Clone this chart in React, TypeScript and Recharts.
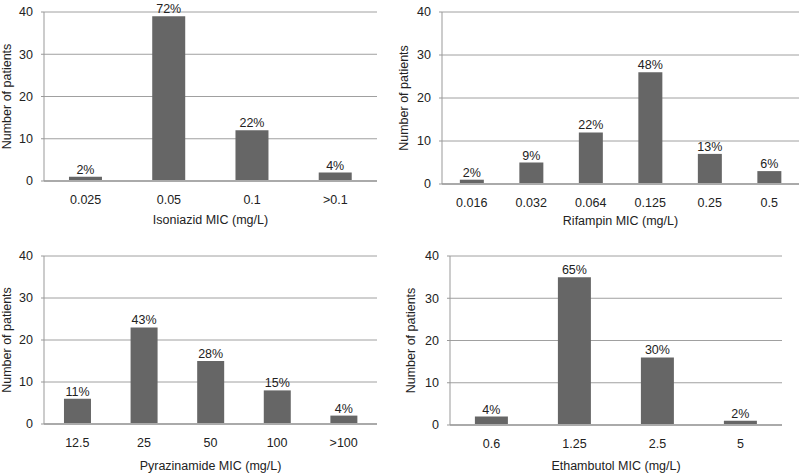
import React from 'react';
import { BarChart, Bar, XAxis, YAxis, CartesianGrid, LabelList } from 'recharts';

const isoniazidCats = ['0.025', '0.05', '0.1', '>0.1'];
const isoniazidCounts = [1, 39, 12, 2];
const isoniazidPct = ['2%', '72%', '22%', '4%'];

const rifampinCats = ['0.016', '0.032', '0.064', '0.125', '0.25', '0.5'];
const rifampinCounts = [1, 5, 12, 26, 7, 3];
const rifampinPct = ['2%', '9%', '22%', '48%', '13%', '6%'];

const pyrazinamideCats = ['12.5', '25', '50', '100', '>100'];
const pyrazinamideCounts = [6, 23, 15, 8, 2];
const pyrazinamidePct = ['11%', '43%', '28%', '15%', '4%'];

const ethambutolCats = ['0.6', '1.25', '2.5', '5'];
const ethambutolCounts = [2, 35, 16, 1];
const ethambutolPct = ['4%', '65%', '30%', '2%'];

const yTicks = [0, 10, 20, 30, 40];

const FONT = 'Liberation Sans, Arial, sans-serif';
const FS = 12.5;
const TEXT = '#222222';
const BAR = '#666666';
const GRID = '#a0a0a0';

type PanelProps = {
  cats: string[];
  counts: number[];
  pct: string[];
  title: string;
  left: number;
  top: number;
  width: number;
  height: number;
  margin: { top: number; right: number; bottom: number; left: number };
  yWidth: number;
  xHeight: number;
  yLabelX: number;
};

function Panel(p: PanelProps) {
  const data = p.cats.map((c, i) => ({ cat: c, value: p.counts[i], pct: p.pct[i] }));
  return (
    <div style={{ position: 'absolute', left: p.left, top: p.top, width: p.width, height: p.height }}>
      <BarChart width={p.width} height={p.height} data={data} margin={p.margin} barCategoryGap="30%">
        <CartesianGrid vertical={false} stroke={GRID} strokeWidth={1} />
        <XAxis
          dataKey="cat"
          height={p.xHeight}
          tickLine={false}
          axisLine={{ stroke: '#aaaaaa', strokeWidth: 2 }}
          tickMargin={8}
          tick={{ fill: TEXT, fontSize: FS, fontFamily: FONT }}
          interval={0}
          label={{
            value: p.title,
            position: 'insideBottom',
            offset: 0,
            fill: TEXT,
            fontSize: FS,
            fontFamily: FONT,
          }}
        />
        <YAxis
          width={p.yWidth}
          domain={[0, 40]}
          ticks={yTicks}
          tickSize={3}
          tickMargin={8}
          tickLine={{ stroke: '#999999' }}
          axisLine={{ stroke: '#999999' }}
          tick={{ fill: TEXT, fontSize: FS, fontFamily: FONT }}
          label={{
            value: 'Number of patients',
            content: (props: any) => {
              const vb = props.viewBox || {};
              const cx = p.yLabelX;
              const cy = (vb.y || 0) + (vb.height || 0) / 2;
              return (
                <text
                  x={cx}
                  y={cy}
                  transform={`rotate(-90, ${cx}, ${cy})`}
                  textAnchor="middle"
                  dominantBaseline="central"
                  fill={TEXT}
                  fontSize={FS}
                  fontFamily={FONT}
                >
                  Number of patients
                </text>
              );
            },
          }}
        />
        <Bar dataKey="value" fill={BAR} isAnimationActive={false}>
          <LabelList dataKey="pct" position="top" offset={3} fill={TEXT} fontSize={FS} fontFamily={FONT} />
        </Bar>
      </BarChart>
    </div>
  );
}

export default function App() {
  return (
    <div style={{ position: 'absolute', left: 0, top: 0, width: 800, height: 473, background: '#ffffff', overflow: 'hidden' }}>
      <Panel
        cats={isoniazidCats}
        counts={isoniazidCounts}
        pct={isoniazidPct}
        title="Isoniazid MIC (mg/L)"
        left={0}
        top={0}
        width={392}
        height={240}
        margin={{ top: 12, right: 15, bottom: 16, left: 0 }}
        yWidth={44}
        xHeight={43}
        yLabelX={7}
      />
      <Panel
        cats={rifampinCats}
        counts={rifampinCounts}
        pct={rifampinPct}
        title="Rifampin MIC (mg/L)"
        left={392}
        top={0}
        width={408}
        height={240}
        margin={{ top: 12, right: 1, bottom: 15, left: 0 }}
        yWidth={50}
        xHeight={41}
        yLabelX={12}
      />
      <Panel
        cats={pyrazinamideCats}
        counts={pyrazinamideCounts}
        pct={pyrazinamidePct}
        title="Pyrazinamide MIC (mg/L)"
        left={0}
        top={240}
        width={392}
        height={233}
        margin={{ top: 16, right: 15, bottom: 3, left: 0 }}
        yWidth={44}
        xHeight={46}
        yLabelX={7}
      />
      <Panel
        cats={ethambutolCats}
        counts={ethambutolCounts}
        pct={ethambutolPct}
        title="Ethambutol MIC (mg/L)"
        left={392}
        top={240}
        width={408}
        height={233}
        margin={{ top: 16, right: 18, bottom: 3, left: 0 }}
        yWidth={58}
        xHeight={45}
        yLabelX={19}
      />
    </div>
  );
}
